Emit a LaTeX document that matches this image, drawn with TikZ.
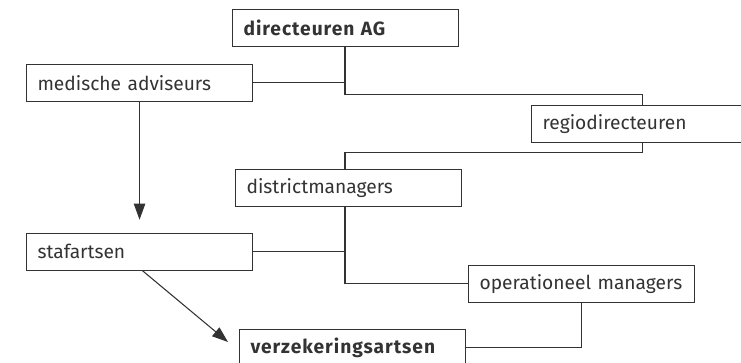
\documentclass[tikz,border=0pt]{standalone}
\usepackage{fontspec}
\setmainfont{Fira Sans}
\newfontfamily\boldwide[LetterSpace=5]{Fira Sans Bold}
\usetikzlibrary{arrows.meta,calc}
\definecolor{ink}{HTML}{333333}
\begin{document}
\begin{tikzpicture}[x=0.75pt,y=-0.75pt,
  box/.style={draw=ink,line width=0.8pt,anchor=north west,minimum height=27.5pt,
    text width=153pt,inner xsep=8.25pt,inner ysep=0pt,align=left,
    font=\fontsize{14.4}{16}\selectfont,text=ink},
  bbox/.style={box,font=\fontsize{14.4}{16}\selectfont\boldwide},
  conn/.style={draw=ink,line width=0.8pt},
  arr/.style={conn,-{Triangle[length=12pt,width=8.5pt]}}]
\useasboundingbox (0,0) rectangle (741,362);
\begin{scope}
\clip (0,0) rectangle (741,362);
\node[bbox] (dir) at (232,9) {directeuren AG};
\node[box] (med) at (26,64) {medische adviseurs};
\node[box] (reg) at (531,105) {regiodirecteuren};
\node[box] (dist) at (235,169) {districtmanagers};
\node[box] (staf) at (26,233) {stafartsen};
\node[box] (op) at (468,265) {operationeel managers};
\node[bbox] (verz) at (239,329) {verzekeringsartsen};
\coordinate (spine) at (345,0);
\coordinate (tip) at (228,342);
\draw[conn] (dir.south -| spine) -- ++(0,48) -| ($(reg.north)+(-2,0)$);
\draw[conn] (med.east) -- (med.east -| spine);
\draw[conn] ($(reg.south)+(-2,0)$) -- ++(0,10) -| (dist.north -| spine);
\draw[conn] (dist.south -| spine) |- (op.west);
\draw[conn] (staf.east) -- (staf.east -| spine);
\draw[conn] (op.south) |- (verz.east);
\draw[arr] (med.south) -- ++(0,118);
\draw[arr] ($(staf.south)+(3,0)$) -- (tip);
\end{scope}
\end{tikzpicture}
\end{document}
